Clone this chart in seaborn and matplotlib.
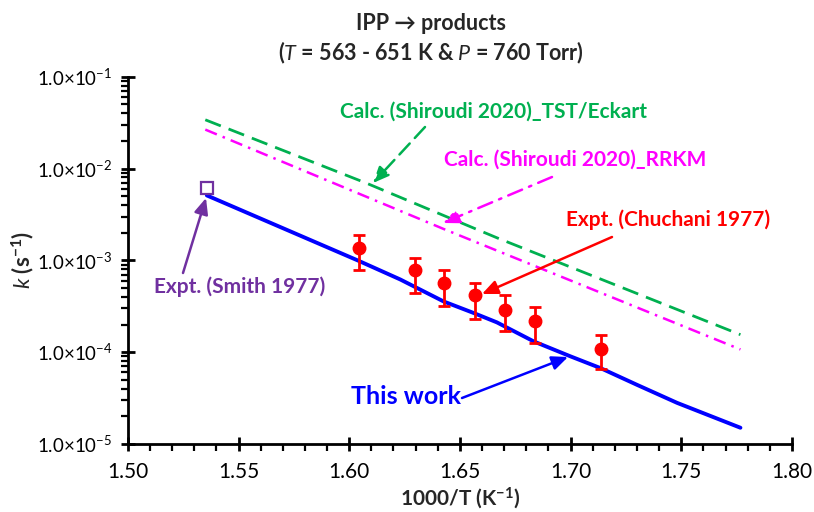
import matplotlib
matplotlib.use('Agg')
import matplotlib.pyplot as plt
import matplotlib.ticker as mticker
import numpy as np
import pandas as pd
import seaborn as sns

# "This work" rate constant (1000/T, k)
this_x = [1.5357, 1.6042, 1.623, 1.6426, 1.6562, 1.6667, 1.6833, 1.6999,
          1.7135, 1.730, 1.7481, 1.7767]
this_k = [5.1e-3, 9.9e-4, 6.2e-4, 3.57e-4, 2.67e-4, 2.11e-4, 1.31e-4, 9.0e-5,
          6.7e-5, 4.4e-5, 2.8e-5, 1.5e-5]

# Calc. (Shiroudi 2020)_TST/Eckart
tst_x = [1.535, 1.608, 1.667, 1.7767]
tst_k = [3.4e-2, 6.9e-3, 1.75e-3, 1.55e-4]

# Calc. (Shiroudi 2020)_RRKM
rrkm_x = [1.535, 1.6426, 1.7767]
rrkm_k = [2.66e-2, 2.2e-3, 1.07e-4]

# Expt. (Chuchani 1977) with error bars
chu_x = [1.6042, 1.6295, 1.6426, 1.6566, 1.6702, 1.6841, 1.7139]
chu_k = [1.36e-3, 7.8e-4, 5.6e-4, 4.2e-4, 2.9e-4, 2.2e-4, 1.09e-4]
chu_lo = [7.8e-4, 4.4e-4, 3.2e-4, 2.3e-4, 1.7e-4, 1.26e-4, 6.5e-5]
chu_hi = [1.9e-3, 1.07e-3, 7.9e-4, 5.7e-4, 4.2e-4, 3.1e-4, 1.55e-4]

# Expt. (Smith 1977)
smith_x = [1.5357]
smith_k = [6.2e-3]

sns.set_theme(style='ticks')
plt.rcParams['font.family'] = ['Lato', 'DejaVu Sans']
plt.rcParams['mathtext.fontset'] = 'custom'
plt.rcParams['mathtext.rm'] = 'Lato'
plt.rcParams['mathtext.it'] = 'Lato:italic'
plt.rcParams['mathtext.bf'] = 'Lato:bold'

GREEN = '#00B050'
MAGENTA = '#FF00FF'
RED = '#FF0000'
BLUE = '#0000FF'
PURPLE = '#7030A0'

fig = plt.figure(figsize=(8.14, 5.12), dpi=100)
ax = fig.add_axes([0.157, 0.133, 0.816, 0.717])

df_this = pd.DataFrame({'x': this_x, 'k': this_k})
df_tst = pd.DataFrame({'x': tst_x, 'k': tst_k})
df_rrkm = pd.DataFrame({'x': rrkm_x, 'k': rrkm_k})

sns.lineplot(data=df_tst, x='x', y='k', ax=ax, color=GREEN, lw=2,
             linestyle=(0, (6, 3)), estimator=None, sort=False)
sns.lineplot(data=df_rrkm, x='x', y='k', ax=ax, color=MAGENTA, lw=1.8,
             linestyle=(0, (5, 2.5, 1, 2.5)), estimator=None, sort=False)
sns.lineplot(data=df_this, x='x', y='k', ax=ax, color=BLUE, lw=2.8,
             estimator=None, sort=False)

k = np.array(chu_k)
yerr = [k - np.array(chu_lo), np.array(chu_hi) - k]
ax.errorbar(chu_x, chu_k, yerr=yerr, fmt='o', color=RED, ms=9,
            elinewidth=2, capsize=4, capthick=2, zorder=5)
ax.plot(smith_x, smith_k, 's', mfc='white', mec=PURPLE, ms=9, mew=1.6, zorder=6)

ax.set_yscale('log')
ax.set_xlim(1.5, 1.8)
ax.set_ylim(1e-5, 1e-1)
ax.xaxis.set_major_locator(mticker.MultipleLocator(0.05))
ax.xaxis.set_minor_locator(mticker.MultipleLocator(0.01))
ax.xaxis.set_major_formatter(mticker.FormatStrFormatter('%.2f'))
ax.yaxis.set_major_locator(mticker.LogLocator(base=10, numticks=10))
ax.yaxis.set_minor_locator(mticker.LogLocator(base=10, subs=np.arange(2, 10), numticks=10))
ax.yaxis.set_major_formatter(mticker.FuncFormatter(
    lambda v, p: r'1.0$\times$10$^{%d}$' % round(np.log10(v))))
ax.yaxis.set_minor_formatter(mticker.NullFormatter())

for s in ['top', 'right']:
    ax.spines[s].set_visible(False)
for s in ['left', 'bottom']:
    ax.spines[s].set_linewidth(2)
    ax.spines[s].set_color('black')
ax.tick_params(which='major', direction='inout', length=10, width=2,
               colors='black', pad=6)
ax.tick_params(axis='y', which='major', labelsize=13.5)
ax.tick_params(axis='x', which='major', labelsize=15, pad=8)
ax.tick_params(which='minor', direction='out', length=5, width=1.6, colors='black')

ax.set_xlabel(r'1000/T (K$^{\mathbf{-1}}$)', fontsize=15, fontweight='bold', labelpad=2)
ax.set_ylabel(r'$\mathbf{\mathit{k}}$ (s$^{\mathbf{-1}}$)', fontsize=16,
              fontweight='bold', va='center')
ax.yaxis.set_label_coords(-0.158, 0.5)

fig.text(431 / 814, 1 - 23 / 512, 'IPP \u2192 products', ha='center', va='center',
         fontsize=15.5, fontweight='bold')
fig.text(431 / 814, 1 - 53 / 512,
         r'($\mathbf{\mathit{T}}$ = 563 - 651 K & $\mathbf{\mathit{P}}$ = 760 Torr)',
         ha='center', va='center', fontsize=15.5, fontweight='bold')

H = 512


def label(text, pos, color, size=15):
    fig.text(pos[0] / 814, 1 - pos[1] / H, text, color=color, fontsize=size,
             fontweight='bold', ha='center', va='center')


def arrow(start, end, color, ls='-', lw=1.8):
    ax.annotate('', xy=(end[0], H - end[1]), xytext=(start[0], H - start[1]),
                xycoords='figure pixels', textcoords='figure pixels',
                arrowprops=dict(arrowstyle='-|>,head_length=0.8,head_width=0.35',
                                color=color, lw=lw, linestyle=ls,
                                shrinkA=0, shrinkB=0))


label('Calc. (Shiroudi 2020)_TST/Eckart', (494, 112), GREEN)
arrow((425, 127), (373, 183), GREEN, ls=(0, (6, 3)))
label('Calc. (Shiroudi 2020)_RRKM', (575, 160), MAGENTA)
arrow((552, 177), (443, 223), MAGENTA, ls=(0, (6, 3, 1, 3)))
label('Expt. (Chuchani 1977)', (668, 220), RED)
arrow((612, 237), (482, 294), RED)
label('Expt. (Smith 1977)', (240, 287), PURPLE)
arrow((183, 273), (206, 198), PURPLE)
label('This work', (406, 397), BLUE, size=18)
arrow((462, 398), (568, 357), BLUE)

fig.savefig('out.png', dpi=100)
